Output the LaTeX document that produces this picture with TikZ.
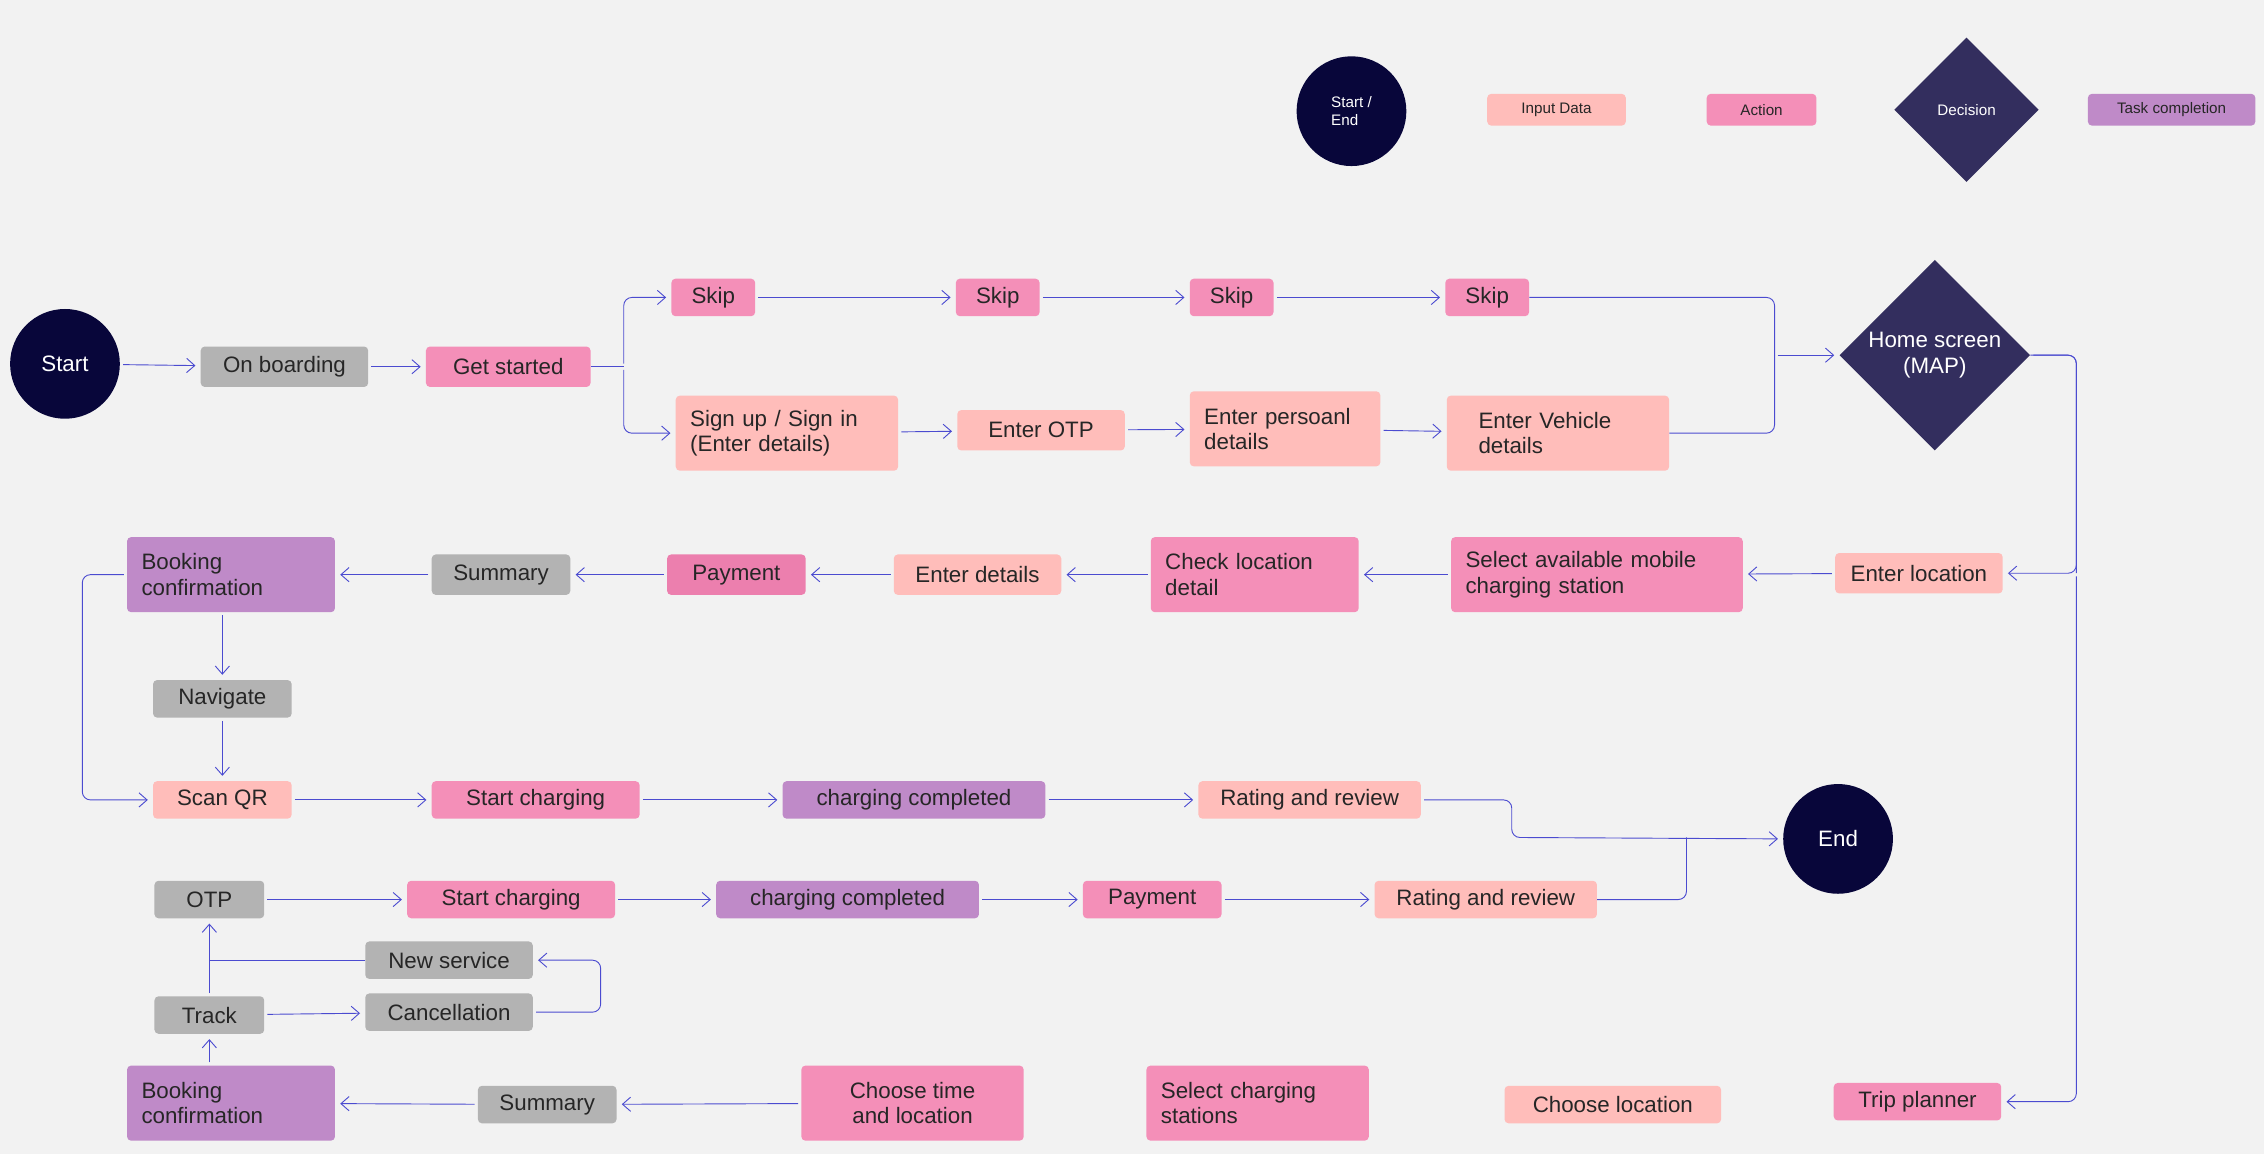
\documentclass[tikz,border=0pt]{standalone}
\usepackage{fontspec}
\setmainfont{Liberation Sans}
\usetikzlibrary{arrows.meta,shapes.geometric}
\definecolor{bg}{HTML}{F2F2F2}
\definecolor{navy}{HTML}{08063A}
\definecolor{inp}{HTML}{FFBDBA}
\definecolor{act}{HTML}{F48FB8}
\definecolor{actd}{HTML}{EC7FAE}
\definecolor{dec}{HTML}{332E5E}
\definecolor{task}{HTML}{BF8AC8}
\definecolor{gry}{HTML}{B3B3B3}
\definecolor{ln}{HTML}{4B4BD0}
\begin{document}
\begin{tikzpicture}[x=0.05cm,y=-0.05cm,
  every node/.style={font=\fontsize{22}{25}\selectfont,text=black!85},
  box/.style={rectangle,rounded corners=4pt,inner sep=0pt,align=left},
  b/.style 2 args={box,minimum width=#1*0.05cm,minimum height=#2*0.05cm},
  inp/.style={fill=inp},act/.style={fill=act},task/.style={fill=task},gry/.style={fill=gry},
  circ/.style={circle,fill=navy,minimum size=76*0.05cm,inner sep=0pt,text=white},
  dia/.style={diamond,fill=dec,text=white,inner sep=0pt,align=center},
  small/.style={font=\fontsize{15}{17}\selectfont},
  ar/.style={draw=ln,line width=0.9pt,-{Straight Barb[length=8pt,width=14pt]},shorten >=5pt,shorten <=3pt},
  ln/.style={draw=ln,line width=0.9pt,rounded corners=8pt}]
\fill[bg] (0,0) rectangle (1568,799);
% legend
\node[circ,small,align=left,text=white] (lse) at (936,77) {Start /\\End};
\node[b={96}{22},inp,small,align=center] (lin) at (1078,76) {Input Data};
\node[b={76}{22},act,small,align=center] (lac) at (1220,76) {Action};
\node[dia,small,minimum width=100*0.05cm,minimum height=100*0.05cm] (lde) at (1362,76) {Decision};
\node[b={116}{22},task,small,align=center] (lta) at (1504,76) {Task completion};
% row 1
\node[circ] (start) at (45,252) {Start};
\node[b={116}{28},gry,align=center] (onb) at (197,254) {On boarding};
\node[b={114}{28},act,align=center] (gs) at (352,254) {Get started};
\node[b={58}{26},act,align=center] (s1) at (494,206) {Skip};
\node[b={58}{26},act,align=center] (s2) at (691,206) {Skip};
\node[b={58}{26},act,align=center] (s3) at (853,206) {Skip};
\node[b={58}{26},act,align=center] (s4) at (1030,206) {Skip};
\node[b={154}{52},inp,text width=134*0.05cm] (su) at (545,300) {Sign up / Sign in\\(Enter details)};
\node[b={116}{28},inp,align=center] (otp) at (721,298) {Enter OTP};
\node[b={132}{52},inp,text width=112*0.05cm] (pd) at (890,297) {Enter persoanl\\details};
\node[b={154}{52},inp,text width=110*0.05cm] (vd) at (1079,300) {Enter Vehicle\\details};
\node[dia,minimum width=132*0.05cm,minimum height=132*0.05cm] (home) at (1340,246) {Home screen\\(MAP)};
% row 2
\node[b={116}{28},inp,align=center] (el) at (1329,397) {Enter location};
\node[b={202}{52},act,text width=182*0.05cm] (sel) at (1106,398) {Select available mobile\\charging station};
\node[b={144}{52},act,text width=124*0.05cm] (cl) at (869,398) {Check location\\detail};
\node[b={116}{28},inp,align=center] (ed) at (677,398) {Enter details};
\node[b={96}{28},fill=actd,align=center] (pay) at (510,398) {Payment};
\node[b={96}{28},gry,align=center] (sum) at (347,398) {Summary};
\node[b={144}{52},task,text width=124*0.05cm] (bc) at (160,398) {Booking\\confirmation};
\node[b={96}{26},gry,align=center] (nav) at (154,484) {Navigate};
\node[b={96}{26},inp,align=center] (qr) at (154,554) {Scan QR};
\node[b={144}{26},act,align=center] (sc) at (371,554) {Start charging};
\node[b={182}{26},task,align=center] (cc) at (633,554) {charging completed};
\node[b={154}{26},inp,align=center] (rr) at (907,554) {Rating and review};
\node[circ] (end) at (1273,581) {End};
% row 3
\node[b={76}{26},gry,align=center] (otp2) at (145,623) {OTP};
\node[b={144}{26},act,align=center] (sc2) at (354,623) {Start charging};
\node[b={182}{26},task,align=center] (cc2) at (587,623) {charging completed};
\node[b={96}{26},act,align=center] (pay2) at (798,623) {Payment};
\node[b={154}{26},inp,align=center] (rr2) at (1029,623) {Rating and review};
\node[b={116}{26},gry,align=center] (ns) at (311,665) {New service};
\node[b={76}{26},gry,align=center] (tr) at (145,703) {Track};
\node[b={116}{26},gry,align=center] (can) at (311,701) {Cancellation};
\node[b={144}{52},task,text width=124*0.05cm] (bc2) at (160,764) {Booking\\confirmation};
\node[b={96}{26},gry,align=center] (sum2) at (379,765) {Summary};
\node[b={154}{52},act,align=center] (ct) at (632,764) {Choose time\\and location};
\node[b={154}{52},act,text width=134*0.05cm] (scs) at (871,764) {Select charging\\stations};
\node[b={150}{26},inp,align=center] (cho) at (1117,765) {Choose location};
\node[b={116}{26},act,align=center] (tp) at (1328,763) {Trip planner};
% connectors
\coordinate (j1) at (432,254);
\draw[ar] (start) -- (onb);
\draw[ar] (onb) -- (gs);
\draw[ln] (gs.east) -- (j1);
\draw[ar,rounded corners=8pt] (j1) |- (s1.west);
\draw[ar,rounded corners=8pt] (j1) |- (su.west);
\draw[ar] (s1) -- (s2); \draw[ar] (s2) -- (s3); \draw[ar] (s3) -- (s4);
\draw[ar] (su) -- (otp); \draw[ar] (otp) -- (pd); \draw[ar] (pd) -- (vd);
\coordinate (j2) at (1229,246);
\draw[ln] (s4.east) -| (j2);
\draw[ln] (vd.east) -| (j2);
\draw[ar] (j2) -- (home.west);
\coordinate (j3) at (1438,397);
\draw[ln] (home.east) -| (j3);
\draw[ar,rounded corners=8pt] (home.east) -| (j3) -- (el.east);
\draw[ar,rounded corners=8pt] (j3) |- (tp.east);
\draw[ar] (el) -- (sel); \draw[ar] (sel) -- (cl); \draw[ar] (cl) -- (ed);
\draw[ar] (ed) -- (pay); \draw[ar] (pay) -- (sum); \draw[ar] (sum) -- (bc);
\draw[ar] (bc.south -| nav) -- (nav);
\draw[ar] (nav) -- (qr);
\coordinate (j4) at (57,554);
\draw[ar,rounded corners=8pt] (bc.west) -| (j4) -- (qr.west);
\draw[ar] (qr) -- (sc); \draw[ar] (sc) -- (cc); \draw[ar] (cc) -- (rr);
\coordinate (j5) at (1047,580);
\coordinate (j6) at (1168,580);
\draw[ar,rounded corners=8pt] (rr.east) -| (j5) -- (end.west);
\draw[ln] (rr2.east) -| (j6);
\draw[ar] (otp2) -- (sc2); \draw[ar] (sc2) -- (cc2); \draw[ar] (cc2) -- (pay2); \draw[ar] (pay2) -- (rr2);
\draw[ar] (tr) -- (otp2);
\draw[ar] (tr) -- (can);
\coordinate (j7) at (416,683);
\draw[ar,rounded corners=8pt] (can.east) -| (j7) |- (ns.east);
\draw[ln] (ns.west) -- (ns.west -| tr);
\draw[ar] (bc2.north -| tr) -- (tr);
\draw[ar] (sum2) -- (bc2);
\draw[ar] (ct) -- (sum2);
\end{tikzpicture}
\end{document}
